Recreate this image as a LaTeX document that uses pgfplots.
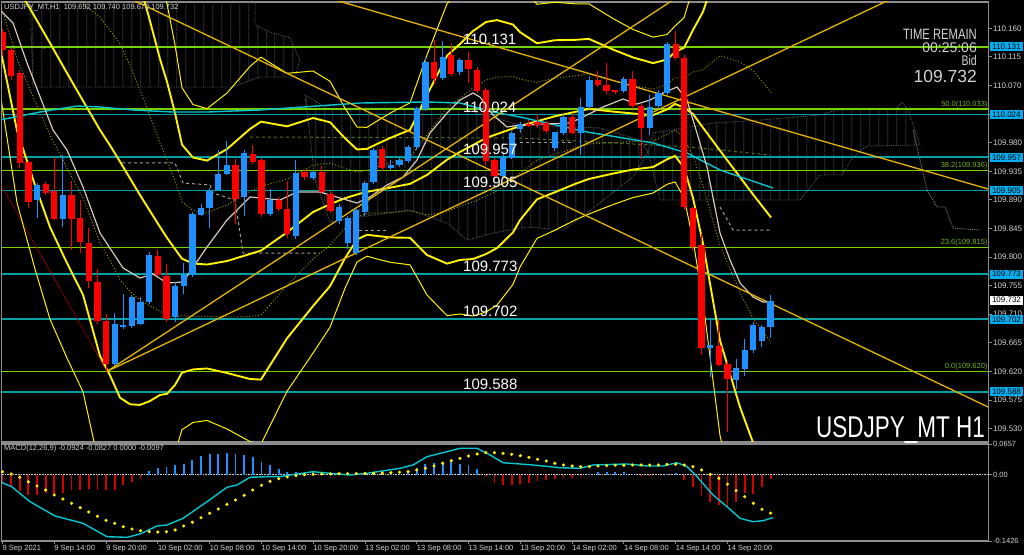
\documentclass[border=0pt]{standalone}
\usepackage{fontspec}
\setmainfont{Liberation Sans}
\newfontfamily\narrowfont[FakeStretch=0.75]{Liberation Sans}
\usepackage{pgfplots}
\pgfplotsset{compat=1.18}
\usepackage{pgfplotstable}
\usetikzlibrary{patterns.meta}

\definecolor{bull}{RGB}{30,144,255}
\definecolor{bear}{RGB}{255,0,0}
\definecolor{hbear}{RGB}{215,0,0}
\definecolor{fibgreen}{RGB}{115,210,0}
\definecolor{fibtext}{RGB}{120,180,20}
\definecolor{srteal}{RGB}{0,160,165}
\definecolor{trend}{RGB}{230,180,0}
\definecolor{beige}{RGB}{215,200,180}
\definecolor{macyan}{RGB}{0,200,210}
\definecolor{olivedot}{RGB}{150,150,0}
\definecolor{cloudgray}{RGB}{95,95,95}
\definecolor{ticklab}{RGB}{210,210,210}
\definecolor{framegray}{RGB}{140,140,140}
\definecolor{kijun}{RGB}{170,160,150}
\definecolor{dkgreen}{RGB}{80,120,30}

\pgfplotstableread{
i O H L C
4 109.890 109.917 109.863 109.913
7 109.861 109.961 109.848 109.899
13 109.633 109.712 109.629 109.695
14 109.692 109.743 109.688 109.694
15 109.692 109.742 109.690 109.736
16 109.696 109.738 109.693 109.730
17 109.730 109.808 109.727 109.803
20 109.706 109.760 109.698 109.755
21 109.756 109.791 109.742 109.772
22 109.773 109.872 109.770 109.869
23 109.868 109.885 109.865 109.879
24 109.879 109.910 109.847 109.905
25 109.907 109.968 109.905 109.932
26 109.933 109.984 109.930 109.946
28 109.895 109.970 109.866 109.963
31 109.869 109.909 109.866 109.891
34 109.835 109.954 109.830 109.934
36 109.925 109.938 109.922 109.934
39 109.858 109.884 109.852 109.880
40 109.823 109.866 109.814 109.861
41 109.808 109.878 109.805 109.874
42 109.873 109.920 109.866 109.917
43 109.919 109.972 109.915 109.968
45 109.942 109.953 109.937 109.946
46 109.945 109.956 109.942 109.953
47 109.952 109.977 109.948 109.974
48 109.974 110.037 109.970 110.034
49 110.034 110.113 110.030 110.107
51 110.083 110.140 110.079 110.116
53 110.092 110.114 110.088 110.110
58 109.929 109.962 109.925 109.958
59 109.958 110.000 109.955 109.997
60 110.003 110.014 109.996 110.010
64 109.972 109.999 109.968 109.996
65 109.997 110.026 109.993 110.022
67 109.997 110.050 109.961 110.037
68 110.037 110.085 110.033 110.079
72 110.062 110.084 110.058 110.080
75 110.005 110.055 109.992 110.038
76 110.038 110.063 110.034 110.059
77 110.059 110.139 110.055 110.135
82 109.657 109.702 109.612 109.662
85 109.608 109.641 109.594 109.626
86 109.625 109.673 109.614 109.655
87 109.655 109.697 109.649 109.693
88 109.668 109.694 109.659 109.690
89 109.692 109.740 109.673 109.732
}\bulltable

\pgfplotstableread{
i O H L C
0 110.153 110.160 110.118 110.126
1 110.126 110.130 110.080 110.086
2 110.090 110.095 109.940 109.950
3 109.950 109.952 109.877 109.889
5 109.915 109.919 109.899 109.902
6 109.904 109.958 109.858 109.861
8 109.898 109.919 109.811 109.862
9 109.863 109.890 109.806 109.826
10 109.823 109.846 109.751 109.763
11 109.762 109.783 109.696 109.700
12 109.701 109.712 109.620 109.634
18 109.802 109.811 109.770 109.773
19 109.771 109.791 109.700 109.704
27 109.946 109.955 109.853 109.893
29 109.963 109.976 109.946 109.950
30 109.953 109.956 109.863 109.869
32 109.891 109.895 109.873 109.877
33 109.875 109.921 109.832 109.837
35 109.934 109.940 109.922 109.927
37 109.934 109.945 109.900 109.904
38 109.901 109.905 109.870 109.874
44 109.970 109.976 109.936 109.941
50 110.108 110.142 110.074 110.082
52 110.118 110.137 110.086 110.090
54 110.111 110.123 110.075 110.097
55 110.095 110.099 110.058 110.062
56 110.063 110.066 109.945 109.953
57 109.953 109.956 109.925 109.929
61 110.010 110.016 110.004 110.008
62 110.013 110.026 110.005 110.009
63 110.011 110.015 109.996 110.000
66 110.022 110.026 109.994 109.997
69 110.080 110.093 110.068 110.072
70 110.072 110.107 110.058 110.062
71 110.063 110.065 110.058 110.061
73 110.080 110.094 110.034 110.038
74 110.038 110.042 109.956 110.004
78 110.135 110.157 110.110 110.114
79 110.114 110.118 109.875 109.879
80 109.877 109.880 109.812 109.817
81 109.819 109.837 109.646 109.658
83 109.661 109.702 109.628 109.632
84 109.633 109.637 109.525 109.609
}\beartable

\pgfplotstableread{
i mid sd
-0.29 110.2722 0.0708
1.68 110.2257 0.1133
3.77 110.1774 0.1322
5.50 110.1368 0.1448
7.47 110.0896 0.1495
9.33 110.0459 0.1527
11.30 109.9999 0.1778
12.46 109.9757 0.1810
13.62 109.9500 0.1857
14.77 109.9239 0.1778
15.93 109.8976 0.1652
17.09 109.8724 0.1495
18.25 109.8473 0.1322
19.06 109.8303 0.1228
19.99 109.8126 0.1070
20.80 109.7974 0.0897
22.07 109.7898 0.0834
23.70 109.7882 0.0818
26.01 109.7937 0.0881
28.68 109.8048 0.0984
29.95 109.8101 0.1015
32.97 109.8389 0.0834
35.98 109.8708 0.0740
37.95 109.8831 0.0645
39.69 109.8926 0.0472
41.08 109.8984 0.0354
42.24 109.9027 0.0338
43.40 109.9055 0.0362
45.02 109.9094 0.0393
47.22 109.9152 0.0425
49.19 109.9292 0.0630
51.51 109.9532 0.0818
53.01 109.9654 0.0850
54.52 109.9763 0.0897
56.03 109.9873 0.0913
57.30 109.9935 0.0897
59.15 110.0023 0.0818
59.96 110.0060 0.0740
61.93 110.0136 0.0614
64.02 110.0216 0.0598
66.34 110.0284 0.0567
67.96 110.0331 0.0551
70.74 110.0289 0.0488
73.06 110.0259 0.0441
75.38 110.0234 0.0409
77.00 110.0323 0.0393
77.93 110.0410 0.0409
78.97 110.0350 0.0472
80.01 110.0251 0.0661
81.17 110.0035 0.0913
83.14 109.9675 0.1495
85.46 109.9256 0.1810
86.96 109.8986 0.1952
89.05 109.8622 0.1967
}\bands

\pgfplotstableread{
i v
-0.29 110.1888
1.22 110.1683
2.84 110.1054
5.85 109.9999
7.47 109.9684
9.33 109.9102
11.30 109.8378
13.96 109.7827
15.93 109.7670
17.44 109.7733
19.06 109.7591
20.92 109.7607
23.70 109.8158
26.01 109.8583
28.68 109.8945
29.84 109.8929
32.15 109.8897
34.12 109.9023
36.79 109.9023
39.11 109.8929
41.08 109.8850
42.58 109.8945
44.55 109.9133
46.41 109.9259
48.03 109.9527
49.54 109.9952
51.51 110.0267
53.01 110.0471
54.52 110.0581
55.33 110.0518
56.84 110.0235
58.46 110.0046
59.96 110.0078
65.76 110.0109
67.73 110.0235
69.58 110.0361
71.90 110.0487
73.52 110.0408
75.03 110.0471
76.53 110.0581
78.16 110.0676
79.31 110.0471
80.47 109.9952
81.63 109.9417
83.14 109.8378
84.30 109.7953
85.46 109.7591
86.96 109.7371
88.12 109.7292
89.17 109.7292
}\fastma

\pgfplotstableread{
i v
-0.29 110.0157
4.35 110.0282
8.63 110.0377
11.30 110.0361
15.12 110.0314
19.76 110.0282
23.70 110.0282
29.84 110.0314
41.43 110.0424
49.19 110.0440
53.01 110.0424
56.84 110.0282
59.96 110.0204
67.73 109.9968
75.38 109.9795
79.31 109.9637
83.14 109.9370
89.28 109.9086
}\slowma

\pgfplotstableread{
i v
0 -0.0193
1 -0.0266
2 -0.0352
3 -0.0444
4 -0.0444
5 -0.0395
6 -0.0408
7 -0.0395
8 -0.0337
9 -0.0322
10 -0.0301
11 -0.0337
12 -0.0322
13 -0.0337
14 -0.0230
15 -0.0159
16 -0.0086
56 -0.0037
57 -0.0180
58 -0.0230
59 -0.0230
60 -0.0208
61 -0.0180
62 -0.0137
63 -0.0122
64 -0.0087
65 -0.0065
66 -0.0065
67 -0.0037
74 -0.0022
75 -0.0029
76 -0.0022
79 -0.0115
80 -0.0266
81 -0.0466
82 -0.0588
83 -0.0659
84 -0.0695
85 -0.0588
86 -0.0394
87 -0.0409
88 -0.0266
89 -0.0097
}\histneg

\pgfplotstableread{
i v
17 0.0077
18 0.0150
19 0.0163
20 0.0200
21 0.0236
22 0.0322
23 0.0393
24 0.0436
25 0.0451
26 0.0472
27 0.0436
28 0.0414
29 0.0378
30 0.0271
31 0.0200
32 0.0129
33 0.0056
34 0.0056
35 0.0043
36 0.0056
37 0.0040
38 0.0030
39 0.0035
40 0.0030
41 0.0040
42 0.0045
43 0.0050
44 0.0045
45 0.0040
46 0.0045
47 0.0056
48 0.0150
49 0.0236
50 0.0250
51 0.0271
52 0.0293
53 0.0236
54 0.0200
55 0.0128
68 0.0021
69 0.0049
70 0.0056
71 0.0056
72 0.0049
73 0.0021
77 0.0021
78 0.0042
}\histpos

\pgfplotstableread{
i v
0 0.0062
1 0.0013
2 -0.0058
3 -0.0153
4 -0.0245
5 -0.0331
6 -0.0438
7 -0.0524
8 -0.0616
9 -0.0711
10 -0.0803
11 -0.0896
12 -0.0981
13 -0.1046
14 -0.1119
15 -0.1168
16 -0.1205
17 -0.1226
18 -0.1233
19 -0.1226
20 -0.1190
21 -0.1104
22 -0.1024
23 -0.0926
24 -0.0831
25 -0.0739
26 -0.0638
27 -0.0546
28 -0.0445
29 -0.0331
30 -0.0230
31 -0.0144
32 -0.0088
33 -0.0052
34 -0.0024
35 -0.0002
36 0.0006
37 0.0013
38 0.0015
39 0.0019
40 0.0019
41 0.0022
42 0.0025
43 0.0028
44 0.0032
45 0.0040
46 0.0049
47 0.0062
48 0.0099
49 0.0135
50 0.0185
51 0.0243
52 0.0298
53 0.0350
54 0.0399
55 0.0442
56 0.0470
57 0.0470
58 0.0457
59 0.0436
60 0.0406
61 0.0371
62 0.0328
63 0.0292
64 0.0243
65 0.0206
66 0.0185
67 0.0170
68 0.0170
69 0.0185
70 0.0192
71 0.0200
72 0.0200
73 0.0206
74 0.0206
75 0.0206
76 0.0206
77 0.0221
78 0.0221
79 0.0206
80 0.0170
81 0.0099
82 0.0006
83 -0.0080
84 -0.0208
85 -0.0346
86 -0.0475
87 -0.0616
88 -0.0745
89 -0.0827
}\signal

\pgfplotstableread{
i v
-0.29 -0.0153
1.07 -0.0260
3.19 -0.0582
6.08 -0.0889
9.33 -0.1046
12.11 -0.1334
14.43 -0.1347
15.93 -0.1276
17.90 -0.1104
19.06 -0.1082
20.92 -0.0939
23.70 -0.0582
26.01 -0.0273
27.17 -0.0223
28.68 -0.0058
30.65 -0.0045
32.16 -0.0045
33.31 -0.0009
35.98 0.0062
37.95 0.0028
40.27 -0.0009
42.24 0.0028
46.06 0.0135
47.57 0.0206
49.19 0.0384
51.04 0.0470
53.01 0.0565
54.98 0.0565
56.49 0.0421
58.00 0.0255
61.47 0.0206
64.60 0.0148
66.92 0.0135
68.42 0.0206
72.36 0.0228
74.68 0.0185
76.53 0.0185
78.16 0.0255
79.31 0.0170
80.48 -0.0045
82.33 -0.0438
83.95 -0.0689
85.46 -0.0939
86.96 -0.1012
88.12 -0.0990
89.28 -0.0924
}\macdline

\begin{document}
\begin{tikzpicture}[x=1bp,y=1bp]
\fill[black] (0,0) rectangle (1024,555);

% ================= MAIN PRICE PANEL =================
\begin{axis}[
  at={(1.5bp,553bp)}, anchor=north west,
  scale only axis, width=987bp, height=440bp,
  xmin=-0.116, xmax=114.25, ymin=109.5089, ymax=110.2014,
  axis background/.style={fill=black},
  axis line style={draw=framegray, line width=1.2bp},
  clip mode=individual,
  xtick=\empty,
  ytick={109.530,109.575,109.620,109.665,109.710,109.755,109.800,109.845,109.890,109.935,109.980,110.025,110.070,110.115,110.160},
  yticklabels={109.530,109.575,109.620,109.665,109.710,109.755,109.800,109.845,109.890,109.935,109.980,110.025,110.070,110.115,110.160},
  ytick pos=right, yticklabel pos=right,
  tick align=outside, major tick length=3bp,
  tick style={draw=framegray, line width=0.8bp},
  yticklabel style={font=\fontsize{8bp}{9bp}\selectfont, text=ticklab, inner sep=1.5bp},
  scaled y ticks=false,
]
\addplot[draw=cloudgray, densely dotted, line width=0.8bp, pattern={Lines[angle=90,distance=8.63bp,line width=0.7bp]}, pattern color=cloudgray]
 coordinates {(3.19,110.2124) (3.53,110.0676) (26.59,110.0676) (29.84,110.0833) (33.89,110.0833) (34.47,110.1101) (33.31,110.1447) (31.00,110.1541) (29.26,110.1652) (29.26,110.2124)} -- cycle;
\addplot[draw=cloudgray, densely dotted, line width=0.8bp, pattern={Lines[angle=90,distance=8.63bp,line width=0.7bp]}, pattern color=cloudgray]
 coordinates {(35.05,110.0550) (37.60,110.0345) (53.01,110.0345) (59.96,110.0078) (69.24,110.0031) (73.87,109.9842) (74.80,109.9653) (73.06,109.9259) (71.55,109.9102) (67.73,109.8693) (64.95,109.8425) (60.78,109.8473) (56.84,109.8378) (53.82,109.8268) (51.51,109.8535) (47.22,109.8740) (41.43,109.8630) (37.95,109.8551) (36.21,109.9212) (35.40,110.0157)} -- cycle;
\addplot[draw=cloudgray, densely dotted, line width=0.8bp, pattern={Lines[angle=90,distance=8.63bp,line width=0.7bp]}, pattern color=cloudgray]
 coordinates {(74.80,109.9653) (75.38,109.9952) (82.33,110.0109) (87.78,110.0157) (94.73,110.0235) (96.70,110.0314) (103.65,110.0345) (104.23,110.0440) (104.93,110.0314) (106.31,109.9763) (100.17,109.9747) (98.55,109.9574) (97.28,109.9291) (94.73,109.9291) (92.41,109.8897) (76.19,109.8897)} -- cycle;
\addplot[cloudgray!80!white, densely dotted, line width=0.9bp] coordinates {(105.50,109.9999) (107.13,109.9055) (108.28,109.8787) (109.21,109.8787) (110.14,109.8457) (113.27,109.8425)};

\addplot[srteal, line width=1.6bp] coordinates {(-1,110.131) (115,110.131)};
\addplot[srteal, line width=1.6bp] coordinates {(-1,110.024) (115,110.024)};
\addplot[srteal, line width=1.6bp] coordinates {(-1,109.957) (115,109.957)};
\addplot[srteal, line width=1.6bp] coordinates {(-1,109.905) (115,109.905)};
\addplot[srteal, line width=1.6bp] coordinates {(-1,109.773) (115,109.773)};
\addplot[srteal, line width=1.6bp] coordinates {(-1,109.702) (115,109.702)};
\addplot[srteal, line width=1.6bp] coordinates {(-1,109.588) (115,109.588)};
\addplot[fibgreen, line width=1.6bp] coordinates {(-1,110.131) (115,110.131)};
\addplot[fibgreen, line width=1.6bp] coordinates {(-1,110.033) (115,110.033)};
\addplot[fibgreen, line width=1.6bp] coordinates {(-1,109.936) (115,109.936)};
\addplot[fibgreen, line width=1.6bp] coordinates {(-1,109.815) (115,109.815)};
\addplot[fibgreen, line width=1.6bp] coordinates {(-1,109.620) (115,109.620)};

\addplot[kijun, dashed, line width=1bp] coordinates {(3.19,110.1305) (5.16,110.1290)};
\addplot[kijun, dashed, line width=1bp] coordinates {(13.85,109.9480) (19.99,109.9480) (20.92,109.9165) (24.04,109.9134) (24.39,109.9008) (26.94,109.8897) (27.87,109.8063) (36.79,109.8063)};
\addplot[kijun, dashed, line width=1bp] coordinates {(40.61,109.8425) (44.55,109.8425)};
\addplot[kijun, dashed, line width=1bp] coordinates {(59.96,109.9795) (66.11,109.9795)};
\addplot[kijun, dashed, line width=1bp] coordinates {(83.14,109.8787) (84.65,109.8425) (88.93,109.8425)};
\addplot[dkgreen, dashed, line width=1bp] coordinates {(28.68,109.9889) (59.96,109.9873) (79.66,109.9732) (88.93,109.9606)};
\addplot[red!75!black, densely dotted, line width=1bp] coordinates {(-0.29,109.9165) (11.88,109.6253)};

\addplot[olivedot, dotted, line width=1bp] table[x=i, y expr=\thisrow{mid}+\thisrow{sd}] {\bands};
\addplot[olivedot, dotted, line width=1bp] table[x=i, y expr=\thisrow{mid}-\thisrow{sd}] {\bands};
\addplot[yellow, line width=1bp] table[x=i, y expr=\thisrow{mid}+3*\thisrow{sd}] {\bands};
\addplot[yellow, line width=1bp] table[x=i, y expr=\thisrow{mid}-3*\thisrow{sd}] {\bands};
\addplot[yellow, line width=1.9bp] table[x=i, y expr=\thisrow{mid}+2*\thisrow{sd}] {\bands};
\addplot[yellow, line width=1.9bp] table[x=i, y expr=\thisrow{mid}-2*\thisrow{sd}] {\bands};
\addplot[yellow, line width=1.9bp] table[x=i, y=mid] {\bands};

\addplot[macyan, line width=1.4bp] table[x=i, y=v] {\slowma};
\addplot[beige, line width=1.2bp] table[x=i, y=v] {\fastma};

\addplot[trend, line width=1.3bp] coordinates {(38.53,110.2045) (114.20,109.9071)};
\addplot[trend, line width=1.3bp] coordinates {(15.12,110.2045) (114.20,109.5640)};
\addplot[trend, line width=1.3bp] coordinates {(12.11,109.620) (77.69,110.2045)};
\addplot[trend, line width=1.3bp] coordinates {(12.11,109.620) (102.72,110.2045)};

\addplot[draw=none, mark=none, error bars/.cd, y dir=both, y explicit, error mark=none,
  error bar style={draw=bull, line width=1bp}]
  table[x=i, y expr={(\thisrow{H}+\thisrow{L})/2}, y error expr={(\thisrow{H}-\thisrow{L})/2}] {\bulltable};
\addplot[draw=none, mark=none, error bars/.cd, y dir=both, y explicit, error mark=none,
  error bar style={draw=bear, line width=1bp}]
  table[x=i, y expr={(\thisrow{H}+\thisrow{L})/2}, y error expr={(\thisrow{H}-\thisrow{L})/2}] {\beartable};
\addplot[draw=none, mark=none, error bars/.cd, y dir=both, y explicit, error mark=none,
  error bar style={draw=bull, line width=6.3bp}]
  table[x=i, y expr={(\thisrow{O}+\thisrow{C})/2}, y error expr={abs(\thisrow{C}-\thisrow{O})/2+0.0004}] {\bulltable};
\addplot[draw=none, mark=none, error bars/.cd, y dir=both, y explicit, error mark=none,
  error bar style={draw=bear, line width=6.3bp}]
  table[x=i, y expr={(\thisrow{O}+\thisrow{C})/2}, y error expr={abs(\thisrow{C}-\thisrow{O})/2+0.0004}] {\beartable};

\begin{scope}[every node/.style={anchor=south west, inner sep=0pt, text=white, font=\fontsize{15bp}{15bp}\selectfont, yshift=2bp}]
\node at (axis cs:53.36,110.131) {110.131};
\node at (axis cs:53.36,110.024) {110.024};
\node at (axis cs:53.36,109.957) {109.957};
\node at (axis cs:53.36,109.905) {109.905};
\node at (axis cs:53.36,109.773) {109.773};
\node at (axis cs:53.36,109.702) {109.702};
\node at (axis cs:53.36,109.588) {109.588};
\end{scope}
\begin{scope}[every node/.style={anchor=south east, inner sep=0pt, text=fibtext, font=\fontsize{7.5bp}{8bp}\selectfont, yshift=1.2bp}]
\node at (axis cs:114.15,110.033) {50.0(110.033)};
\node at (axis cs:114.15,109.936) {38.2(109.936)};
\node at (axis cs:114.15,109.815) {23.6(109.815)};
\node at (axis cs:114.15,109.620) {0.0(109.620)};
\end{scope}
\begin{scope}[every node/.style={anchor=west, fill=cyan, text=black, inner xsep=1bp, inner ysep=0pt, minimum height=9bp, minimum width=32.5bp, font=\fontsize{8bp}{8bp}\selectfont, xshift=1.5bp}]
\node at (axis cs:114.25,110.131) {110.131};
\node at (axis cs:114.25,110.024) {110.024};
\node at (axis cs:114.25,109.957) {109.957};
\node at (axis cs:114.25,109.905) {109.905};
\node at (axis cs:114.25,109.773) {109.773};
\node at (axis cs:114.25,109.702) {109.702};
\node at (axis cs:114.25,109.588) {109.588};
\node[fill=white] at (axis cs:114.25,109.732) {109.732};
\end{scope}
\end{axis}

% ================= MACD PANEL =================
\begin{axis}[
  at={(1.5bp,111bp)}, anchor=north west,
  scale only axis, width=987bp, height=97bp,
  xmin=-0.116, xmax=114.25, ymin=-0.1426, ymax=0.0657,
  axis background/.style={fill=black},
  axis line style={draw=framegray, line width=1.2bp},
  clip mode=individual,
  xtick={0,6,...,84},
  xticklabels={{9 Sep 2021},{9 Sep 14:00},{9 Sep 20:00},{10 Sep 02:00},{10 Sep 08:00},{10 Sep 14:00},{10 Sep 20:00},{13 Sep 02:00},{13 Sep 08:00},{13 Sep 14:00},{13 Sep 20:00},{14 Sep 02:00},{14 Sep 08:00},{14 Sep 14:00},{14 Sep 20:00}},
  ytick={-0.1426,0,0.0657}, yticklabels={-0.1426,0.00,0.0657},
  xtick pos=left, ytick pos=right, yticklabel pos=right,
  tick align=outside, major tick length=3bp,
  tick style={draw=framegray, line width=0.8bp},
  xticklabel style={anchor=north west, font=\fontsize{7.5bp}{8bp}\selectfont, text=ticklab, inner sep=1bp, xshift=-1bp},
  yticklabel style={font=\fontsize{7.5bp}{8bp}\selectfont, text=ticklab, inner sep=1.5bp},
  scaled y ticks=false, scaled x ticks=false,
]
\addplot[ticklab, densely dotted, line width=0.6bp] coordinates {(-1,0) (115,0)};
\addplot[ycomb, draw=bull, line width=1.8bp, mark=none] table[x=i, y=v] {\histpos};
\addplot[ycomb, draw=hbear, line width=1.8bp, mark=none] table[x=i, y=v] {\histneg};
\addplot[macyan, line width=1.4bp] table[x=i, y=v] {\macdline};
\addplot[only marks, mark=*, mark size=1.4bp, mark options={draw=yellow, fill=yellow}] table[x=i, y=v] {\signal};
\end{axis}

\node[anchor=base west, inner sep=0pt, text=ticklab, font=\fontsize{7.5bp}{8bp}\selectfont] at (4,545.5) {USDJPY\_MT,H1\ \ 109.692 109.740 109.673 109.732};
\node[anchor=base west, inner sep=0pt, text=ticklab, font=\fontsize{7.5bp}{8bp}\selectfont] at (4,104.5) {MACD(12,26,9) -0.0924 -0.0827 0.0000 -0.0097};
\node[anchor=base east, inner sep=0pt, text=ticklab, font=\narrowfont\fontsize{15bp}{15bp}\selectfont] at (977,515.5) {TIME REMAIN};
\node[anchor=base east, inner sep=0pt, text=ticklab, font=\fontsize{14bp}{14bp}\selectfont] at (977,502) {00:25:06};
\node[anchor=base east, inner sep=0pt, text=ticklab, font=\narrowfont\fontsize{14bp}{14bp}\selectfont] at (977,489.5) {Bid};
\node[anchor=base east, inner sep=0pt, text=ticklab, font=\fontsize{17.5bp}{17.5bp}\selectfont] at (977,472.5) {109.732};
\node[anchor=base east, inner sep=0pt, text=white, font=\narrowfont\fontsize{30bp}{30bp}\selectfont] at (985,117) {USDJPY\_MT H1};

\pgfresetboundingbox
\path[use as bounding box] (0,0) rectangle (1024,555);
\end{tikzpicture}
\end{document}
